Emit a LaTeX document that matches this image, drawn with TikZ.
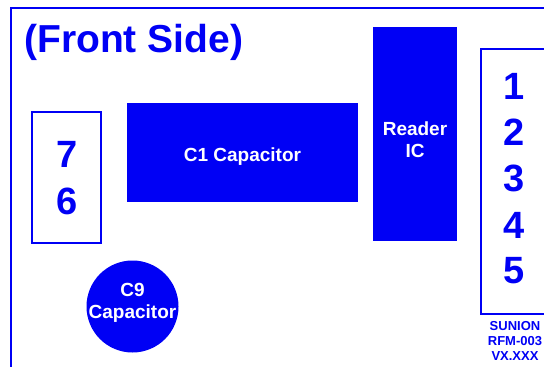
\documentclass[tikz,border=0pt]{standalone}
\usepackage{fontspec}
\setmainfont{Liberation Sans}
\definecolor{pcbblue}{RGB}{0,0,245}
\begin{document}
\begin{tikzpicture}[x=1pt,y=-1pt,
  outline/.style={draw=pcbblue,line width=2pt},
  part/.style={fill=pcbblue,draw=none},
  partlabel/.style={text=white,font=\bfseries\fontsize{19}{22}\selectfont,align=center},
  pinnum/.style={text=pcbblue,font=\bfseries\fontsize{38}{38}\selectfont},
  marking/.style={text=pcbblue,font=\bfseries\fontsize{13}{15}\selectfont,align=center}]
\useasboundingbox (0,0) rectangle (544,367);
\clip (0,0) rectangle (544,367);
% board outline
\draw[outline] (11,8) rectangle (570,400);
\node[anchor=base west,text=pcbblue,font=\bfseries\fontsize{39}{42}\selectfont,inner sep=0pt] (title) at (24,52) {(Front Side)};
% pin header 7/6
\draw[outline] (32,112) rectangle (101,243);
\node[pinnum] (p7) at (67,154) {7};
\node[pinnum] (p6) at (67,201) {6};
% C1 capacitor
\path[part] (127,103) rectangle (358,202);
\node[partlabel] (c1) at (242.5,157) {C1 Capacitor};
% reader IC
\path[part] (373,27) rectangle (457,241);
\node[partlabel] (ic) at (415,140) {Reader\\IC};
% pin header 1..5
\draw[outline] (481,49) rectangle (570,314);
\node[pinnum] (p1) at (514,86) {1};
\node[pinnum] (p2) at (514,132) {2};
\node[pinnum] (p3) at (514,178) {3};
\node[pinnum] (p4) at (514,225) {4};
\node[pinnum] (p5) at (514,271) {5};
\node[marking] (mark) at (515,341) {SUNION\\RFM-003\\VX.XXX};
% C9 capacitor
\fill[pcbblue] (132.5,306.5) circle (46);
\node[partlabel] (c9) at (132.5,303) {C9\\Capacitor};
\end{tikzpicture}
\end{document}
